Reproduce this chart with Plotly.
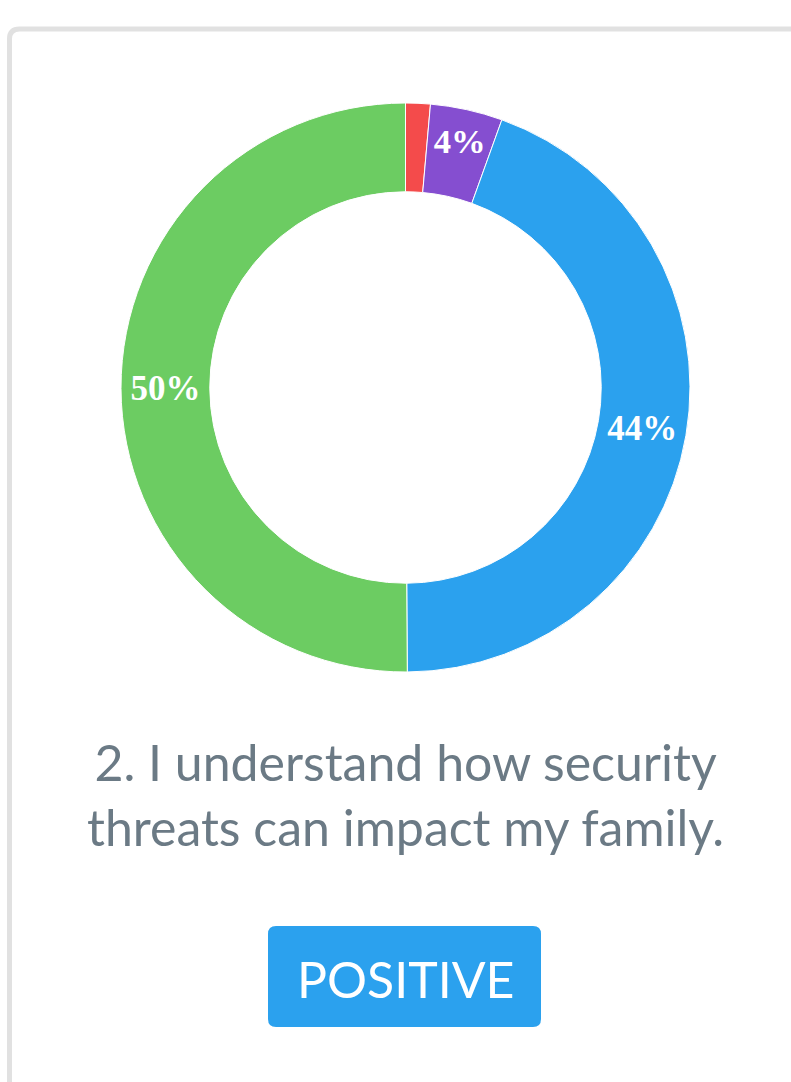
import plotly.graph_objects as go

# Survey responses for question 2 (share of respondents, %)
categories = ["Strongly disagree", "Disagree", "Agree", "Strongly agree"]
responses = [1.4, 4.1, 44.4, 50.1]
slice_colors = ["#F44B4B", "#854ED0", "#2BA1EE", "#6CCC62"]
question = "2. I understand how security<br>threats can impact my family."
verdict = "POSITIVE"

W, H = 791, 1082

def px_x(v):
    return v / W

def px_y(v):
    return 1 - v / H

def rounded_rect(x0, y0, x1, y1, r):
    # path in paper coordinates, corners rounded by r pixels
    rx, ry = r / W, r / H
    X0, X1 = px_x(x0), px_x(x1)
    Y0, Y1 = px_y(y0), px_y(y1)  # Y0 top, Y1 bottom
    return (
        f"M {X0+rx},{Y0} L {X1-rx},{Y0} Q {X1},{Y0} {X1},{Y0-ry} "
        f"L {X1},{Y1+ry} Q {X1},{Y1} {X1-rx},{Y1} "
        f"L {X0+rx},{Y1} Q {X0},{Y1} {X0},{Y1+ry} "
        f"L {X0},{Y0-ry} Q {X0},{Y0} {X0+rx},{Y0} Z"
    )

# label every slice with its rounded share, except the tiny first one
templates = ["" if i == 0 else "%{percent:.0%}" for i in range(len(responses))]

fig = go.Figure(
    go.Pie(
        labels=categories,
        values=responses,
        sort=False,
        direction="clockwise",
        rotation=0,
        hole=0.688,
        marker=dict(colors=slice_colors, line=dict(color="#ffffff", width=1)),
        texttemplate=templates,
        textposition="inside",
        insidetextorientation="horizontal",
        textfont=dict(family="Liberation Serif", size=35, color="#ffffff", weight="bold"),
        showlegend=False,
        domain=dict(x=[px_x(121), px_x(690)], y=[px_y(672), px_y(103)]),
        hoverinfo="label+percent",
    )
)

shapes = [
    # card outline
    dict(
        type="path",
        xref="paper", yref="paper",
        path=rounded_rect(9.5, 29, 820, 1120, 10),
        line=dict(color="#E1E1E1", width=5),
        fillcolor="rgba(0,0,0,0)",
        layer="below",
    ),
    # verdict badge
    dict(
        type="path",
        xref="paper", yref="paper",
        path=rounded_rect(268, 926, 541, 1027, 8),
        line=dict(color="#2BA1EE", width=0),
        fillcolor="#2BA1EE",
    ),
]

annotations = [
    dict(
        x=px_x(405), y=px_y(794), xref="paper", yref="paper",
        text=question, showarrow=False, align="center",
        xanchor="center", yanchor="middle",
        font=dict(family="Lato", size=50, color="#6B7A85"),
    ),
    dict(
        x=px_x(405), y=px_y(979), xref="paper", yref="paper",
        text=verdict, showarrow=False,
        xanchor="center", yanchor="middle",
        font=dict(family="Lato", size=50, color="#ffffff"),
    ),
]

fig.update_layout(
    width=W, height=H,
    margin=dict(l=0, r=0, t=0, b=0),
    paper_bgcolor="#ffffff",
    plot_bgcolor="#ffffff",
    shapes=shapes,
    annotations=annotations,
)

fig.write_html("out.html")
